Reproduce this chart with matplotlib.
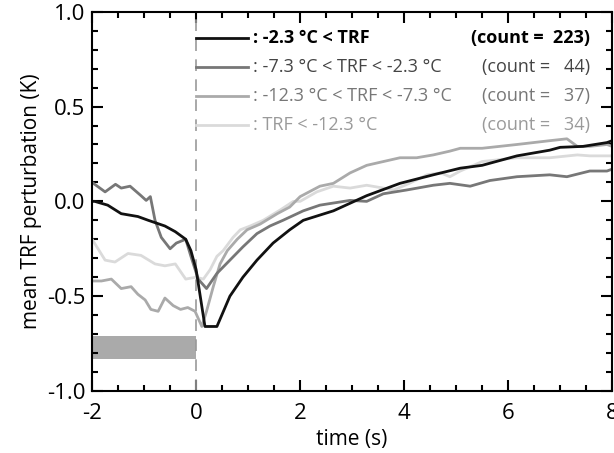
import matplotlib.pyplot as plt
from matplotlib.ticker import MultipleLocator
from matplotlib.lines import Line2D

plt.rcParams['font.family'] = ['Open Sans', 'DejaVu Sans']

# series 1: -2.3 C < TRF
t1 = [-2.0, -1.95, -1.7, -1.44, -1.12, -0.92, -0.6, -0.4, -0.2, -0.1, 0.0, 0.17, 0.4,
      0.65, 0.9, 1.17, 1.48, 1.8, 2.06, 2.64, 3.28, 3.92, 4.56, 5.08, 5.5, 6.17, 6.8,
      7.0, 7.44, 7.9, 8.0]
v1 = [0.0, 0.0, -0.02, -0.065, -0.08, -0.10, -0.13, -0.16, -0.20, -0.26, -0.36, -0.66, -0.66,
      -0.50, -0.40, -0.31, -0.22, -0.15, -0.10, -0.05, 0.03, 0.095, 0.14, 0.175, 0.19, 0.24, 0.27,
      0.285, 0.29, 0.31, 0.32]

# series 2: -7.3 C < TRF < -2.3 C
t2 = [-2.0, -1.75, -1.55, -1.44, -1.27, -1.06, -0.96, -0.88, -0.79, -0.67, -0.5, -0.38,
      -0.2, -0.1, 0.04, 0.2, 0.4, 0.65, 0.9, 1.17, 1.42, 1.67, 2.06, 2.38, 2.96, 3.28,
      3.6, 4.05, 4.56, 4.88, 5.27, 5.65, 6.17, 6.8, 7.13, 7.57, 7.9, 8.0]
v2 = [0.10, 0.05, 0.09, 0.07, 0.08, 0.03, 0.005, 0.025, -0.10, -0.19, -0.25, -0.22,
      -0.20, -0.29, -0.41, -0.46, -0.38, -0.31, -0.24, -0.17, -0.13, -0.10, -0.05, -0.02, 0.005, 0.0,
      0.04, 0.06, 0.085, 0.095, 0.08, 0.11, 0.13, 0.14, 0.13, 0.16, 0.16, 0.17]

# series 3: -12.3 C < TRF < -7.3 C
t3 = [-2.0, -1.82, -1.63, -1.44, -1.25, -1.12, -0.98, -0.87, -0.73, -0.6, -0.44, -0.3,
      -0.16, -0.02, 0.11, 0.2, 0.33, 0.46, 0.6, 0.79, 0.98, 1.23, 1.56, 1.8, 2.0, 2.38,
      2.64, 2.96, 3.28, 3.6, 3.92, 4.24, 4.56, 4.88, 5.08, 5.5, 6.17, 6.8, 7.13, 7.33,
      7.57, 7.9, 8.0]
v3 = [-0.42, -0.42, -0.41, -0.46, -0.45, -0.49, -0.52, -0.57, -0.58, -0.51, -0.55, -0.57,
      -0.56, -0.58, -0.66, -0.58, -0.45, -0.33, -0.26, -0.20, -0.15, -0.12, -0.065, -0.03, 0.025, 0.08,
      0.095, 0.15, 0.19, 0.21, 0.23, 0.23, 0.245, 0.265, 0.28, 0.28, 0.30, 0.32, 0.33, 0.29,
      0.29, 0.30, 0.29]

# series 4: TRF < -12.3 C
t4 = [-2.0, -1.75, -1.56, -1.31, -1.06, -0.79, -0.6, -0.4, -0.2, 0.0, 0.14, 0.27, 0.4,
      0.52, 0.71, 0.85, 1.04, 1.29, 1.62, 1.87, 2.0, 2.32, 2.64, 2.96, 3.28, 3.6, 3.8,
      4.1, 4.44, 4.7, 4.88, 5.08, 5.5, 6.17, 6.8, 7.33, 7.57, 7.9, 8.0]
v4 = [-0.20, -0.31, -0.32, -0.275, -0.285, -0.33, -0.34, -0.33, -0.41, -0.40, -0.41, -0.36, -0.29,
      -0.26, -0.19, -0.15, -0.13, -0.10, -0.045, 0.0, 0.0, 0.05, 0.08, 0.07, 0.085, 0.07, 0.06,
      0.095, 0.14, 0.15, 0.13, 0.16, 0.21, 0.23, 0.23, 0.245, 0.24, 0.24, 0.24]

labels = [r": -2.3 °C < TRF", r": -7.3 °C < TRF < -2.3 °C",
          r": -12.3 °C < TRF < -7.3 °C", r": TRF < -12.3 °C"]
counts = [223, 44, 37, 34]

bar_x = [-2, 0]
bar_y = [-0.83, -0.71]

line_colors = ["#111111", "#777777", "#aaaaaa", "#dadada"]
text_colors = ["#000000", "#444444", "#777777", "#9a9a9a"]

fig = plt.figure(figsize=(6.14, 4.53), dpi=100)
ax = fig.add_axes([0.150, 0.137, 0.847, 0.837])

ax.fill_between(bar_x, bar_y[0], bar_y[1], color="#aaaaaa", lw=0)
ax.axvline(0, color="#999999", lw=1.2, ls=(0, (7, 5)))

series = [(t4, v4), (t3, v3), (t2, v2), (t1, v1)]
cols = line_colors[::-1]
for (t, v), c in zip(series, cols):
    ax.plot(t, v, color=c, lw=2)

# legend drawn by hand
rows_y = [0.931, 0.855, 0.778, 0.702]
for i in range(4):
    y = rows_y[i]
    ax.add_line(Line2D([0.2, 0.3], [y, y], transform=ax.transAxes,
                       color=line_colors[i], lw=2))
    w = "bold" if i == 0 else "normal"
    ax.text(0.31, y, labels[i], transform=ax.transAxes, color=text_colors[i],
            fontsize=13, fontweight=w, va="center", ha="left")
    ax.text(0.957, y, "(count = %4d)" % counts[i], transform=ax.transAxes,
            color=text_colors[i], fontsize=13, fontweight=w, va="center", ha="right")

ax.set_xlim(-2, 8)
ax.set_ylim(-1, 1)
ax.set_xticks([-2, 0, 2, 4, 6, 8])
ax.set_yticks([-1.0, -0.5, 0.0, 0.5, 1.0])
ax.set_yticklabels(["-1.0", "-0.5", "0.0", "0.5", "1.0"])
ax.set_xticklabels(["-2", "0", "2", "4", "6", "8"])
ax.xaxis.set_minor_locator(MultipleLocator(0.5))
ax.yaxis.set_minor_locator(MultipleLocator(0.1))
ax.tick_params(which="both", direction="in", top=True, right=True, width=1.5, labelsize=16)
ax.tick_params(which="major", length=8, pad=5)
ax.tick_params(axis="x", which="major", pad=9)
ax.tick_params(which="minor", length=4)
for s in ax.spines.values():
    s.set_linewidth(1.5)

ax.set_xlabel("time (s)", fontsize=15, labelpad=3)
ax.set_ylabel("mean TRF perturbation (K)", fontsize=15, labelpad=3)

fig.savefig("out.png", dpi=100)
